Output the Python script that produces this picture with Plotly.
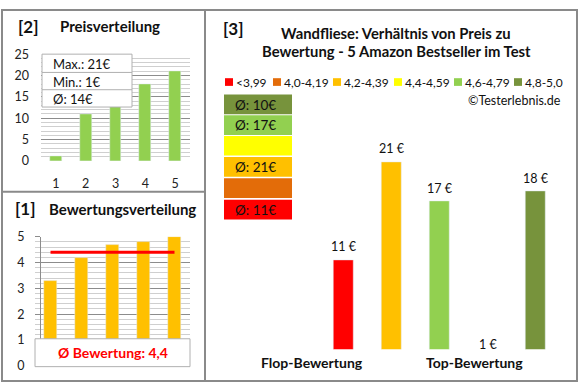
import math
import plotly.graph_objects as go

# ---------------- data ----------------
ratings = [3.3, 4.2, 4.7, 4.8, 5.0]          # sorted ratings of the 5 products
prices = [11, 21, 17, 1, 18]                 # price of each product (same order)
positions = [1, 2, 3, 4, 5]
bin_labels = ["<3,99", "4,0-4,19", "4,2-4,39", "4,4-4,59", "4,6-4,79", "4,8-5,0"]
bin_lower = [0.0, 4.0, 4.2, 4.4, 4.6, 4.8]
bin_colors = ["#FF0000", "#E36C09", "#FFC000", "#FFFF00", "#92D050", "#77933C"]
flop_label = "Flop-Bewertung"
top_label = "Top-Bewertung"

W, H = 580, 390
FONT = "Lato"


def X(px):
    return px / W


def Y(py):
    return 1 - py / H


def rnd(v):
    return int(math.floor(v + 0.5))


def bin_of(r):
    idx = 0
    for i, lo in enumerate(bin_lower):
        if r >= lo:
            idx = i
    return idx


sorted_prices = sorted(prices)
avg_price = sum(prices) / len(prices)
avg_rating = sum(ratings) / len(ratings)
bar_colors = [bin_colors[bin_of(r)] for r in ratings]

fig = go.Figure()

# ---- panel [2] Preisverteilung ----
fig.add_trace(go.Bar(x=positions, y=sorted_prices, marker_color="#92D050", width=0.4,
                     xaxis="x", yaxis="y", showlegend=False, hoverinfo="skip"))
# ---- panel [1] Bewertungsverteilung ----
fig.add_trace(go.Bar(x=positions, y=ratings, marker_color="#FFC000", width=0.42,
                     xaxis="x2", yaxis="y2", showlegend=False, hoverinfo="skip"))
fig.add_trace(go.Scatter(x=positions, y=[avg_rating] * len(positions), mode="lines",
                         line=dict(color="#FF0000", width=3), xaxis="x2", yaxis="y2",
                         showlegend=False, hoverinfo="skip"))
# ---- panel [3] ----
idx3 = list(range(len(prices)))
fig.add_trace(go.Bar(x=idx3, y=prices, marker_color=bar_colors, width=0.4,
                     xaxis="x3", yaxis="y3", showlegend=False, hoverinfo="skip"))

y3min = 1.88
y3max = y3min + 255 / 10.2

tickfont = dict(family=FONT, size=12.5, color="#222222")
fig.update_layout(
    width=W, height=H, margin=dict(l=0, r=0, t=0, b=0),
    paper_bgcolor="white", plot_bgcolor="rgba(0,0,0,0)",
    font=dict(family=FONT, color="#111111"),
    bargap=0,
    xaxis=dict(domain=[X(41), X(190)], range=[0.5, 5.5], tickvals=positions,
               showgrid=False, zeroline=False, showline=False, ticks="",
               tickfont=tickfont, ticklabelstandoff=14),
    yaxis=dict(domain=[Y(159), Y(48)], range=[0, 25], tickvals=[0, 5, 10, 15, 20, 25],
               showgrid=True, gridcolor="#8c8c8c", gridwidth=1, zeroline=False,
               ticks="", tickfont=tickfont, ticklabelstandoff=11,
               minor=dict(dtick=1, showgrid=True, gridcolor="#cfcfcf")),
    xaxis2=dict(domain=[X(35), X(190)], range=[0.5, 5.5], showticklabels=False,
                showgrid=False, zeroline=False, ticks=""),
    yaxis2=dict(domain=[Y(372), Y(238)], range=[0, 5], tickvals=[0, 1, 2, 3, 4, 5],
                showgrid=True, gridcolor="#8c8c8c", zeroline=False,
                showline=True, linecolor="#8c8c8c", ticks="outside", ticklen=5,
                tickcolor="#8c8c8c", tickfont=tickfont, ticklabelstandoff=8,
                minor=dict(dtick=0.2, showgrid=True, gridcolor="#cfcfcf")),
    xaxis3=dict(domain=[X(271.5), X(559.5)], range=[-1.5, 4.5], visible=False),
    yaxis3=dict(domain=[Y(355), Y(100)], range=[y3min, y3max], visible=False),
)

shapes = []
ann = []
GRAY = "#8a8a8a"
# frame
shapes.append(dict(type="rect", xref="paper", yref="paper", x0=X(2), x1=X(577), y0=Y(388), y1=Y(2),
                   line=dict(color=GRAY, width=2)))
shapes.append(dict(type="line", xref="paper", yref="paper", x0=X(205), x1=X(205), y0=Y(388), y1=Y(2),
                   line=dict(color=GRAY, width=2)))
shapes.append(dict(type="line", xref="paper", yref="paper", x0=X(2), x1=X(205), y0=Y(191), y1=Y(191),
                   line=dict(color=GRAY, width=2)))


def text(px, py, s, size=12, bold=False, color="#111111", xanchor="left"):
    ann.append(dict(xref="paper", yref="paper", x=X(px), y=Y(py), text=("<b>%s</b>" % s) if bold else s,
                    showarrow=False, xanchor=xanchor, yanchor="middle",
                    font=dict(family=FONT, size=size, color=color)))


# panel titles
text(16, 19, "[2]", 17, True)
text(58, 19, "Preisverteilung", 15, True)
text(13, 209, "[1]", 17, True)
text(47, 209, "Bewertungsverteilung", 15, True)
text(221, 21, "[3]", 17, True)
text(396, 26, "Wandfliese: Verhältnis von Preis zu", 14.8, True, xanchor="center")
text(396, 45, "Bewertung - 5 Amazon Bestseller im Test", 14.8, True, xanchor="center")

# panel [2] stats box
shapes.append(dict(type="rect", xref="paper", yref="paper", x0=X(42), x1=X(132), y0=Y(103), y1=Y(48),
                   line=dict(color="#b0b0b0", width=1), fillcolor="white", layer="above"))
for sep in (67, 85):
    shapes.append(dict(type="line", xref="paper", yref="paper", x0=X(42), x1=X(132), y0=Y(sep), y1=Y(sep),
                       line=dict(color="#b0b0b0", width=1), layer="above"))
text(51, 58, "Max.: %d€" % max(prices), 13)
text(51, 76.5, "Min.: %d€" % min(prices), 13)
text(51, 94.5, "Ø: %d€" % rnd(avg_price), 13)

# panel [1] avg box
shapes.append(dict(type="rect", xref="paper", yref="paper", x0=X(35), x1=X(190), y0=Y(373), y1=Y(344),
                   line=dict(color="#b0b0b0", width=1), fillcolor="white", layer="above"))
text(113, 358.5, "Ø Bewertung: " + ("%.1f" % avg_rating).replace(".", ","), 14, True, "#FF0000", "center")

# panel [3] legend
leg_x = [225, 273, 333, 394, 454, 514]
for lx, lab, col in zip(leg_x, bin_labels, bin_colors):
    shapes.append(dict(type="rect", xref="paper", yref="paper", x0=X(lx), x1=X(lx + 8), y0=Y(81), y1=Y(73),
                       line=dict(width=0), fillcolor=col))
    text(lx + 9, 77, lab, 12)
text(563, 96, "©Testerlebnis.de", 12.5, xanchor="right")

# panel [3] average boxes per rating class (top: best class)
box_top = [90, 111.5, 133, 155, 177, 199.5]
for k, bi in enumerate(reversed(range(len(bin_colors)))):
    t = box_top[k]
    shapes.append(dict(type="rect", xref="paper", yref="paper", x0=X(224), x1=X(292), y0=Y(t + 20.5), y1=Y(t),
                       line=dict(width=0), fillcolor=bin_colors[bi]))
    members = [p for p, r in zip(prices, ratings) if bin_of(r) == bi]
    if members:
        text(233, t + 10.5, "Ø: %d€" % rnd(sum(members) / len(members)), 13.5)

# panel [3] price labels
for i, v in enumerate(prices):
    ann.append(dict(xref="x3", yref="y3", x=i, y=max(v, y3min), text="%d €" % v, showarrow=False,
                    yanchor="middle", yshift=13 if v >= y3min else 5,
                    font=dict(family=FONT, size=12.5, color="#111111")))

text(312, 369, flop_label, 14, True, xanchor="center")
text(474, 369, top_label, 14, True, xanchor="center")

fig.update_layout(shapes=shapes, annotations=ann, hovermode=False)
post = ("document.documentElement.style.margin='0';document.body.style.margin='0';"
        "document.body.style.padding='0';document.body.style.overflow='hidden';"
        "document.documentElement.style.overflow='hidden';"
        "var d=document.getElementById('{plot_id}');d.style.position='fixed';"
        "d.style.left='0px';d.style.top='0px';")
fig.write_html("out.html", config={"displayModeBar": False}, post_script=post)
